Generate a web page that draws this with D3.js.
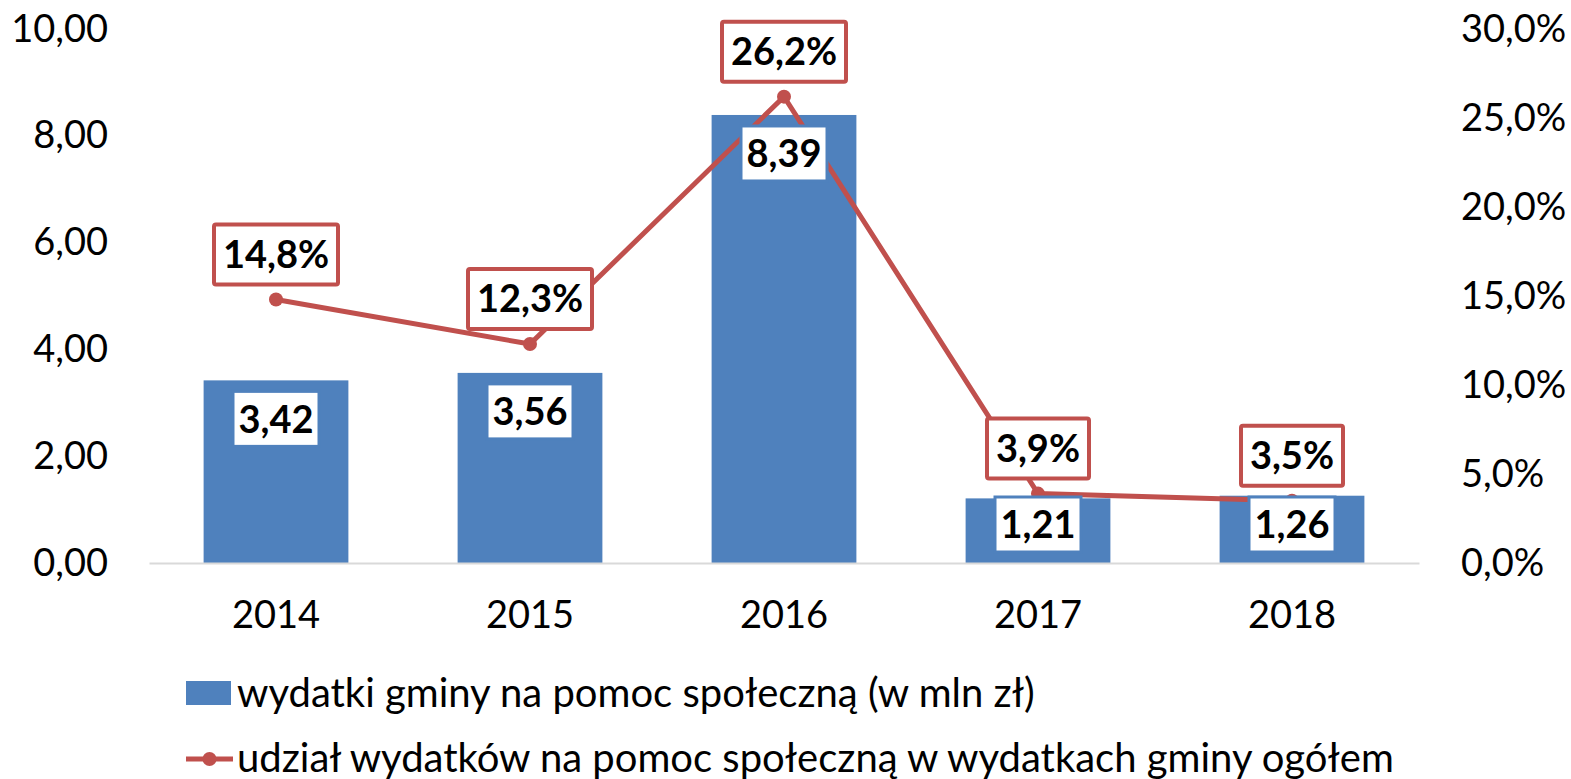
<!DOCTYPE html>
<html>
<head>
<meta charset="utf-8">
<script src="https://cdn.jsdelivr.net/npm/d3@7"></script>
<style>
  body { margin: 0; background: #fff; }
  text { font-family: Lato, "Open Sans", sans-serif; }
</style>
</head>
<body>
<div id="chart"></div>
<script>
// data
var years = ["2014", "2015", "2016", "2017", "2018"];
var spending = [3.42, 3.56, 8.39, 1.21, 1.26];       // mln zł
var share = [14.8, 12.3, 26.2, 3.9, 3.5];            // %
var leftTicks = [0, 2, 4, 6, 8, 10];
var rightTicks = [0, 5, 10, 15, 20, 25, 30];
var legendLabels = [
  "wydatki gminy na pomoc społeczną (w mln zł)",
  "udział wydatków na pomoc społeczną w wydatkach gminy ogółem"
];

var blue = "#4F81BD", red = "#C0504D";
var fmt2 = function (v) { return v.toFixed(2).replace(".", ","); };
var fmt1 = function (v) { return v.toFixed(1).replace(".", ",") + "%"; };

var svg = d3.select("#chart")
  .append("svg")
    .attr("width", 1571)
    .attr("height", 779);

var x = d3.scaleBand()
  .domain(years)
  .range([149, 1419])
  .paddingInner(0.43)
  .paddingOuter(0.215);

var y = d3.scaleLinear()
  .domain([0, 10])
  .range([563, 29]);

var y2 = d3.scaleLinear()
  .domain([0, 30])
  .range([563, 29]);

// left axis
svg.append("g")
  .attr("transform", "translate(108,0)")
  .call(d3.axisLeft(y).tickValues(leftTicks).tickFormat(fmt2).tickSize(0).tickPadding(0))
  .call(function (g) { g.select(".domain").remove(); })
  .selectAll("text")
    .attr("font-size", 38)
    .attr("fill", "#000");

// right axis
svg.append("g")
  .attr("transform", "translate(1461,0)")
  .call(d3.axisRight(y2).tickValues(rightTicks).tickFormat(function (d) { return d.toFixed(1).replace(".", ",") + "%"; }).tickSize(0).tickPadding(0))
  .call(function (g) { g.select(".domain").remove(); })
  .selectAll("text")
    .attr("font-size", 38)
    .attr("fill", "#000");

// bars
svg.append("g")
  .selectAll("rect")
  .data(spending)
  .enter()
  .append("rect")
    .attr("x", function (d, i) { return x(years[i]); })
    .attr("y", function (d) { return y(d); })
    .attr("width", x.bandwidth())
    .attr("height", function (d) { return y(0) - y(d); })
    .attr("fill", blue);

// x axis
svg.append("g")
  .attr("transform", "translate(0," + y(0) + ")")
  .call(d3.axisBottom(x).tickSize(0).tickPadding(38))
  .call(function (g) {
    g.select(".domain").attr("stroke", "#D9D9D9").attr("stroke-width", 2);
  })
  .selectAll("text")
    .attr("font-size", 38)
    .attr("fill", "#000");

// line
var line = d3.line()
  .x(function (d, i) { return x(years[i]) + x.bandwidth() / 2; })
  .y(function (d) { return y2(d); });

svg.append("path")
  .datum(share)
  .attr("d", line)
  .attr("fill", "none")
  .attr("stroke", red)
  .attr("stroke-width", 5);

svg.append("g")
  .selectAll("circle")
  .data(share)
  .enter()
  .append("circle")
    .attr("cx", function (d, i) { return x(years[i]) + x.bandwidth() / 2; })
    .attr("cy", function (d) { return y2(d); })
    .attr("r", 7)
    .attr("fill", red);

// bar labels
var bl = svg.append("g")
  .selectAll("g")
  .data(spending)
  .enter()
  .append("g")
    .attr("transform", function (d, i) {
      var cx = x(years[i]) + x.bandwidth() / 2;
      var top = Math.min(y(d) + 11, y(0) - 66);
      return "translate(" + cx + "," + top + ")";
    });
bl.append("rect")
  .attr("x", -43)
  .attr("y", 0)
  .attr("width", 86)
  .attr("height", 55)
  .attr("fill", "#fff")
  .attr("stroke", blue)
  .attr("stroke-width", 3);
bl.append("text")
  .attr("y", 28)
  .attr("dy", "0.35em")
  .attr("text-anchor", "middle")
  .attr("font-size", 38)
  .attr("font-weight", "bold")
  .text(fmt2);

// percent labels
var pl = svg.append("g")
  .selectAll("g")
  .data(share)
  .enter()
  .append("g")
    .attr("transform", function (d, i) {
      var cx = x(years[i]) + x.bandwidth() / 2;
      return "translate(" + cx + "," + (y2(d) - 13) + ")";
    });
pl.append("rect")
  .attr("x", function (d) { return d >= 10 ? -62 : -51; })
  .attr("y", -62)
  .attr("width", function (d) { return d >= 10 ? 124 : 102; })
  .attr("height", 60)
  .attr("rx", 2)
  .attr("fill", "#fff")
  .attr("stroke", red)
  .attr("stroke-width", 4);
pl.append("text")
  .attr("y", -32)
  .attr("dy", "0.35em")
  .attr("text-anchor", "middle")
  .attr("font-size", 38)
  .attr("font-weight", "bold")
  .text(fmt1);

// legend
var lg = svg.append("g");
lg.append("rect")
  .attr("x", 186).attr("y", 681)
  .attr("width", 45).attr("height", 24)
  .attr("fill", blue);
lg.append("line")
  .attr("x1", 186).attr("x2", 233)
  .attr("y1", 759).attr("y2", 759)
  .attr("stroke", red).attr("stroke-width", 5);
lg.append("circle")
  .attr("cx", 209.5).attr("cy", 759).attr("r", 7)
  .attr("fill", red);
lg.selectAll("text")
  .data(legendLabels)
  .enter()
  .append("text")
    .attr("x", 237)
    .attr("y", function (d, i) { return i === 0 ? 693 : 758; })
    .attr("dy", "0.35em")
    .attr("font-size", 40)
    .text(function (d) { return d; });
</script>
</body>
</html>
